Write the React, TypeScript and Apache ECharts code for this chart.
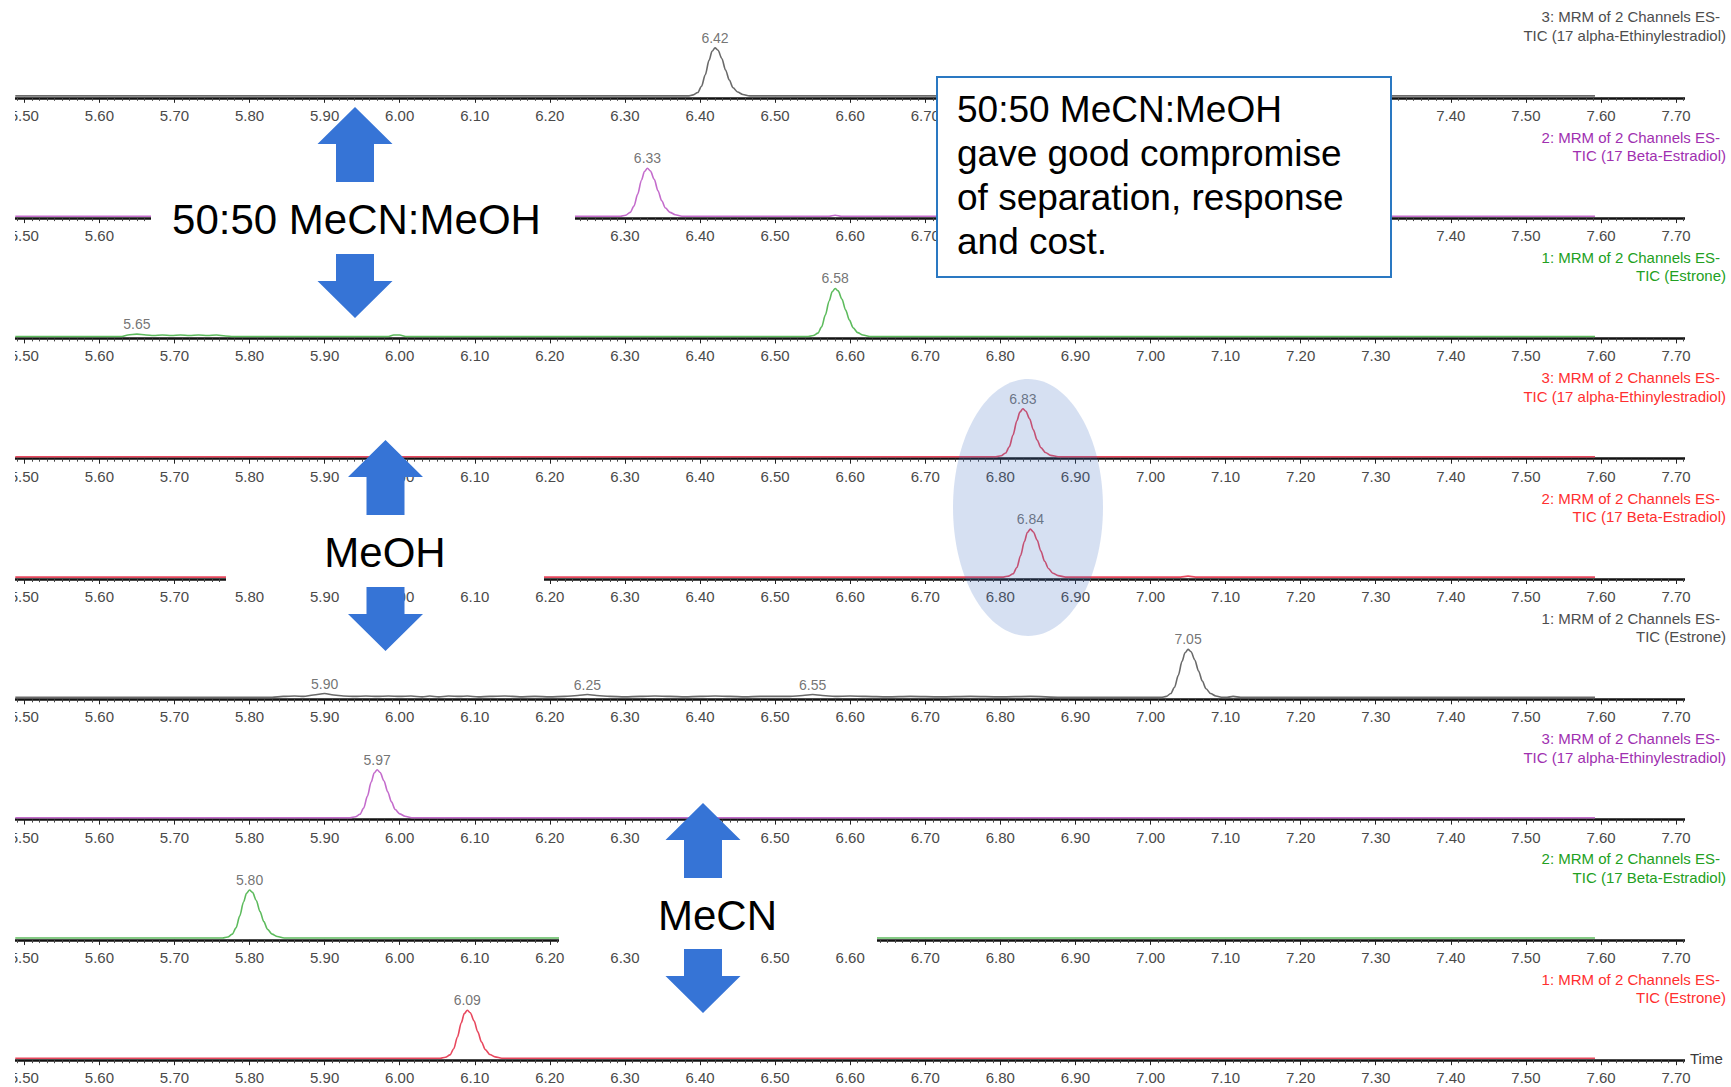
import { useEffect, useRef } from 'react';
import * as echarts from 'echarts';

// Retention-time axis (minutes)
const axisMin = 5.4;
const axisMax = 7.8;
const tickStep = 0.1;
const firstTickLabel = 5.5;
const lastTickLabel = 7.7;

// Chromatogram traces: [retention time (min), relative intensity (%)]
// 50:50 MeCN:MeOH
const mixEthinyl = [
  [5.488, 0], [6.384, 0], [6.391, 2], [6.397, 7], [6.402, 20], [6.407, 44], [6.412, 74], [6.416, 93],
  [6.42, 100], [6.424, 95], [6.429, 78], [6.434, 54], [6.439, 33], [6.444, 17], [6.45, 8], [6.457, 3],
  [6.466, 0], [7.592, 0],
];
const mixBeta = [
  [5.488, 0], [6.294, 0], [6.301, 2], [6.307, 8], [6.312, 21], [6.317, 46], [6.322, 75], [6.326, 93],
  [6.33, 100], [6.334, 94], [6.339, 77], [6.344, 53], [6.349, 32], [6.354, 17], [6.36, 8], [6.367, 3],
  [6.376, 0], [6.572, 0], [6.58, 2], [6.588, 0], [7.592, 0],
];
const mixEstrone = [
  [5.488, 0], [5.63, 0], [5.638, 3], [5.65, 5], [5.662, 3], [5.672, 2], [5.684, 3], [5.696, 2],
  [5.708, 3], [5.72, 2], [5.732, 3], [5.744, 2], [5.756, 3], [5.768, 1], [5.778, 0], [5.985, 0],
  [5.992, 3], [6.0, 3], [6.008, 0], [6.544, 0], [6.551, 2], [6.557, 7], [6.562, 20], [6.567, 45],
  [6.572, 74], [6.576, 93], [6.58, 100], [6.584, 95], [6.589, 78], [6.594, 55], [6.599, 34], [6.604, 18],
  [6.61, 8], [6.617, 3], [6.626, 0], [7.592, 0],
];
// MeOH
const meohEthinyl = [
  [5.488, 0], [6.794, 0], [6.801, 2], [6.807, 8], [6.812, 21], [6.817, 46], [6.822, 75], [6.826, 93],
  [6.83, 100], [6.834, 95], [6.839, 79], [6.844, 56], [6.849, 35], [6.854, 19], [6.86, 9], [6.867, 3],
  [6.877, 0], [7.592, 0],
];
const meohBeta = [
  [5.488, 0], [6.804, 0], [6.811, 2], [6.817, 7], [6.822, 20], [6.827, 45], [6.832, 74], [6.836, 93],
  [6.84, 100], [6.844, 94], [6.849, 77], [6.854, 54], [6.859, 33], [6.864, 18], [6.87, 8], [6.877, 3],
  [6.887, 0], [7.04, 0], [7.05, 2], [7.06, 0], [7.592, 0],
];
const meohEstrone = [
  [5.488, 0], [5.83, 0], [5.845, 2], [5.86, 3], [5.872, 2], [5.885, 5], [5.9, 8], [5.912, 5],
  [5.925, 3], [5.94, 2], [5.955, 3], [5.97, 2], [5.985, 3], [6.0, 2], [6.015, 3], [6.03, 1],
  [6.04, 3], [6.052, 1], [6.065, 3], [6.08, 2], [6.09, 3], [6.105, 1], [6.12, 2], [6.14, 3],
  [6.16, 1], [6.18, 2], [6.2, 1], [6.22, 2], [6.237, 4], [6.25, 6], [6.262, 4], [6.28, 2],
  [6.3, 1], [6.32, 2], [6.34, 3], [6.36, 2], [6.38, 1], [6.4, 2], [6.42, 3], [6.44, 2],
  [6.46, 1], [6.48, 2], [6.5, 2], [6.52, 2], [6.537, 4], [6.55, 6], [6.563, 4], [6.58, 2],
  [6.6, 3], [6.62, 2], [6.65, 1], [6.68, 2], [6.72, 1], [6.76, 2], [6.8, 1], [6.84, 2],
  [6.88, 0], [7.014, 0], [7.021, 2], [7.027, 8], [7.032, 21], [7.037, 46], [7.042, 75], [7.046, 93],
  [7.05, 100], [7.054, 95], [7.059, 78], [7.064, 55], [7.069, 34], [7.074, 18], [7.08, 8], [7.087, 3],
  [7.096, 0], [7.102, 0], [7.11, 2], [7.12, 0], [7.592, 0],
];
// MeCN
const mecnEthinyl = [
  [5.488, 0], [5.934, 0], [5.941, 2], [5.947, 7], [5.952, 20], [5.957, 45], [5.962, 74], [5.966, 93],
  [5.97, 100], [5.974, 94], [5.979, 77], [5.984, 54], [5.989, 33], [5.994, 17], [6.0, 8], [6.007, 3],
  [6.016, 0], [7.592, 0],
];
const mecnBeta = [
  [5.488, 0], [5.764, 0], [5.771, 2], [5.777, 8], [5.782, 21], [5.787, 46], [5.792, 75], [5.796, 93],
  [5.8, 100], [5.804, 95], [5.809, 78], [5.814, 55], [5.819, 34], [5.824, 18], [5.83, 8], [5.837, 3],
  [5.846, 0], [7.592, 0],
];
const mecnEstrone = [
  [5.488, 0], [6.054, 0], [6.061, 2], [6.067, 7], [6.072, 20], [6.077, 45], [6.082, 74], [6.086, 93],
  [6.09, 100], [6.094, 95], [6.099, 78], [6.104, 55], [6.109, 34], [6.114, 18], [6.12, 8], [6.127, 3],
  [6.136, 0], [7.592, 0],
];

const traces = [
  mixEthinyl, mixBeta, mixEstrone,
  meohEthinyl, meohBeta, meohEstrone,
  mecnEthinyl, mecnBeta, mecnEstrone,
];

// Retention times printed above the peak apexes
const peakTimes = [
  [6.42], [6.33], [5.65, 6.58],
  [6.83], [6.84], [5.9, 6.25, 6.55, 7.05],
  [5.97], [5.8], [6.09],
];

const channelTitles = [
  '3: MRM of 2 Channels ES-', '2: MRM of 2 Channels ES-', '1: MRM of 2 Channels ES-',
  '3: MRM of 2 Channels ES-', '2: MRM of 2 Channels ES-', '1: MRM of 2 Channels ES-',
  '3: MRM of 2 Channels ES-', '2: MRM of 2 Channels ES-', '1: MRM of 2 Channels ES-',
];
const compoundTitles = [
  'TIC (17 alpha-Ethinylestradiol)', 'TIC (17 Beta-Estradiol)', 'TIC (Estrone)',
  'TIC (17 alpha-Ethinylestradiol)', 'TIC (17 Beta-Estradiol)', 'TIC (Estrone)',
  'TIC (17 alpha-Ethinylestradiol)', 'TIC (17 Beta-Estradiol)', 'TIC (Estrone)',
];

const GRAY_LINE = '#6a6a6a';
const PURPLE_LINE = '#c46ccc';
const GREEN_LINE = '#5dbb5d';
const RED_LINE = '#e8485e';
const traceColors = [
  GRAY_LINE, PURPLE_LINE, GREEN_LINE,
  RED_LINE, RED_LINE, GRAY_LINE,
  PURPLE_LINE, GREEN_LINE, RED_LINE,
];
const GRAY_TEXT = '#4d4d4d';
const PURPLE_TEXT = '#a030b0';
const GREEN_TEXT = '#22a022';
const RED_TEXT = '#ff2f2f';
const titleColors = [
  GRAY_TEXT, PURPLE_TEXT, GREEN_TEXT,
  RED_TEXT, RED_TEXT, GRAY_TEXT,
  PURPLE_TEXT, GREEN_TEXT, RED_TEXT,
];

const solventLabels = ['50:50 MeCN:MeOH', 'MeOH', 'MeCN'];
const noteText = '50:50 MeCN:MeOH\ngave good compromise\nof separation, response\nand cost.';

// ---- layout ----
const W = 1731;
const H = 1087;
// the chart canvas overhangs the page on both sides so the axes can start left of it
const OVERHANG = 120;
const CW = W + 2 * OVERHANG;
const FONT = "'Liberation Sans', Arial, Helvetica, sans-serif";
const FIRST_BASE = 97.8;
const PANEL_STEP = 120.3;
const PX_PER_MIN = 750.8;
const X_AT_FIRST_LABEL = 24.3;
const PLOT_H = 56;
const Y_MIN = -4;
const Y_MAX = 112.7;
const AXIS_END_X = 1685;
const ARROW_BLUE = '#3674d6';

const baseOf = (i: number) => FIRST_BASE + PANEL_STEP * i;
const gridLeft = OVERHANG + X_AT_FIRST_LABEL - (firstTickLabel - axisMin) * PX_PER_MIN;
const gridWidth = (axisMax - axisMin) * PX_PER_MIN;

function arrow(cx: number, tipY: number, up: boolean, shaft: number) {
  const headH = 37;
  const headHalf = 37.5;
  const shaftHalf = 19;
  const s = up ? 1 : -1;
  const hb = tipY + s * headH;
  const end = hb + s * shaft;
  return {
    type: 'polygon',
    z: 80,
    silent: true,
    shape: {
      points: [
        [cx, tipY], [cx + headHalf, hb], [cx + shaftHalf, hb], [cx + shaftHalf, end],
        [cx - shaftHalf, end], [cx - shaftHalf, hb], [cx - headHalf, hb],
      ],
    },
    style: { fill: ARROW_BLUE },
  };
}

function buildOption() {
  const grid: any[] = [];
  const xAxis: any[] = [];
  const yAxis: any[] = [];
  const series: any[] = [];

  traces.forEach((trace, i) => {
    const b = baseOf(i);
    grid.push({ left: gridLeft, top: b - PLOT_H, width: gridWidth, height: PLOT_H });
    xAxis.push({
      gridIndex: i,
      type: 'value',
      min: axisMin,
      max: axisMax,
      interval: tickStep,
      axisLine: { show: true, onZero: false, lineStyle: { color: '#111', width: 2.5 } },
      axisTick: { show: true, length: 5, lineStyle: { color: '#222', width: 1 } },
      minorTick: { show: true, splitNumber: 10, length: 3, lineStyle: { color: '#444', width: 1 } },
      splitLine: { show: false },
      minorSplitLine: { show: false },
      axisLabel: {
        margin: 10,
        fontSize: 15,
        fontFamily: FONT,
        color: '#4a4a4a',
        formatter: (v: number) => {
          const k = Math.round(v / tickStep);
          const onTick = Math.abs(v - k * tickStep) < 1e-6;
          return onTick && v > firstTickLabel - 1e-6 && v < lastTickLabel + 1e-6 ? v.toFixed(2) : '';
        },
      },
    });
    yAxis.push({ gridIndex: i, type: 'value', min: Y_MIN, max: Y_MAX, show: false });
    series.push({
      type: 'line',
      xAxisIndex: i,
      yAxisIndex: i,
      data: trace,
      showSymbol: false,
      smooth: 0.3,
      smoothMonotone: 'x',
      lineStyle: { color: traceColors[i], width: 1.6 },
      silent: true,
      z: 3,
    });
    const apexes = peakTimes[i]
      .map((t) => trace.find((p) => Math.abs(p[0] - t) < 1e-9))
      .filter(Boolean);
    series.push({
      type: 'scatter',
      xAxisIndex: i,
      yAxisIndex: i,
      data: apexes,
      symbolSize: 2,
      itemStyle: { color: 'rgba(0,0,0,0)' },
      silent: true,
      z: 4,
      label: {
        show: true,
        position: 'top',
        distance: 2,
        fontSize: 14,
        fontFamily: FONT,
        color: '#505050',
        formatter: (p: any) => p.value[0].toFixed(2),
      },
    });
  });

  // overlay elements, in page coordinates
  const overlay: any[] = [];
  // trim the axes to the visible window
  overlay.push({ type: 'rect', z: 50, silent: true, shape: { x: -OVERHANG, y: 0, width: OVERHANG + 15, height: H }, style: { fill: '#fff' } });
  traces.forEach((_, i) => {
    const b = baseOf(i);
    overlay.push({
      type: 'rect', z: 50, silent: true,
      shape: { x: AXIS_END_X, y: b - 6, width: W + OVERHANG - AXIS_END_X, height: 16 },
      style: { fill: '#fff' },
    });
    overlay.push({
      type: 'text', z: 85, silent: true,
      style: { text: channelTitles[i], x: 1720, y: b - 81, align: 'right', verticalAlign: 'middle', fill: titleColors[i], font: `15px ${FONT}` },
    });
    overlay.push({
      type: 'text', z: 85, silent: true,
      style: { text: compoundTitles[i], x: 1726, y: b - 62.5, align: 'right', verticalAlign: 'middle', fill: titleColors[i], font: `15px ${FONT}` },
    });
  });
  overlay.push({
    type: 'text', z: 85, silent: true,
    style: { text: 'Time', x: 1690, y: baseOf(8) - 2, align: 'left', verticalAlign: 'middle', fill: '#3a3a3a', font: `15px ${FONT}` },
  });

  // highlight around the co-eluting MeOH peaks
  overlay.push({
    type: 'ellipse', z: 60, silent: true,
    shape: { cx: 1028, cy: 507.5, rx: 75, ry: 128.5 },
    style: { fill: 'rgba(68,114,196,0.22)' },
  });

  // solvent labels with arrows
  const solventBoxes = [
    { x: 151, y: 190, w: 424, h: 58, cx: 356.5, cy: 219.5, ax: 355, upTip: 107, downTip: 318 },
    { x: 226, y: 522, w: 318, h: 65, cx: 385, cy: 552, ax: 385.5, upTip: 440, downTip: 651 },
    { x: 559, y: 885, w: 318, h: 65, cx: 717.5, cy: 915, ax: 703, upTip: 803, downTip: 1013 },
  ];
  solventBoxes.forEach((s, k) => {
    overlay.push({ type: 'rect', z: 70, silent: true, shape: { x: s.x, y: s.y, width: s.w, height: s.h }, style: { fill: '#fff' } });
    overlay.push({
      type: 'text', z: 80, silent: true,
      style: { text: solventLabels[k], x: s.cx, y: s.cy, align: 'center', verticalAlign: 'middle', fill: '#000', font: `42px ${FONT}` },
    });
    overlay.push(arrow(s.ax, s.upTip, true, 38));
    overlay.push(arrow(s.ax, s.downTip, false, 27));
  });

  // conclusion note
  overlay.push({
    type: 'rect', z: 90, silent: true,
    shape: { x: 937, y: 77, width: 454, height: 200 },
    style: { fill: '#fff', stroke: '#2a78c2', lineWidth: 2 },
  });
  overlay.push({
    type: 'text', z: 91, silent: true,
    style: { text: noteText, x: 957, y: 87.5, align: 'left', verticalAlign: 'top', lineHeight: 44, fill: '#000', font: `37px ${FONT}` },
  });

  // shift page coordinates into the wider chart canvas
  const graphic = overlay.map((el) => {
    const e = { ...el };
    if (e.type === 'text') {
      e.style = { ...e.style, x: e.style.x + OVERHANG };
    } else if (e.type === 'polygon') {
      e.shape = { points: e.shape.points.map((p: number[]) => [p[0] + OVERHANG, p[1]]) };
    } else if (e.type === 'ellipse') {
      e.shape = { ...e.shape, cx: e.shape.cx + OVERHANG };
    } else {
      e.shape = { ...e.shape, x: e.shape.x + OVERHANG };
    }
    return e;
  });

  return {
    animation: false,
    backgroundColor: '#fff',
    grid,
    xAxis,
    yAxis,
    series,
    graphic,
  };
}

export default function App() {
  const ref = useRef<HTMLDivElement>(null);
  useEffect(() => {
    if (!ref.current) return;
    const chart = echarts.init(ref.current, null, { renderer: 'svg' });
    chart.setOption(buildOption() as any);
    return () => chart.dispose();
  }, []);
  return (
    <div style={{ position: 'absolute', left: 0, top: 0, width: W, height: H, overflow: 'hidden', background: '#fff' }}>
      <div
        ref={ref}
        style={{ position: 'absolute', left: -OVERHANG, top: 0, width: CW, height: H }}
      />
    </div>
  );
}
